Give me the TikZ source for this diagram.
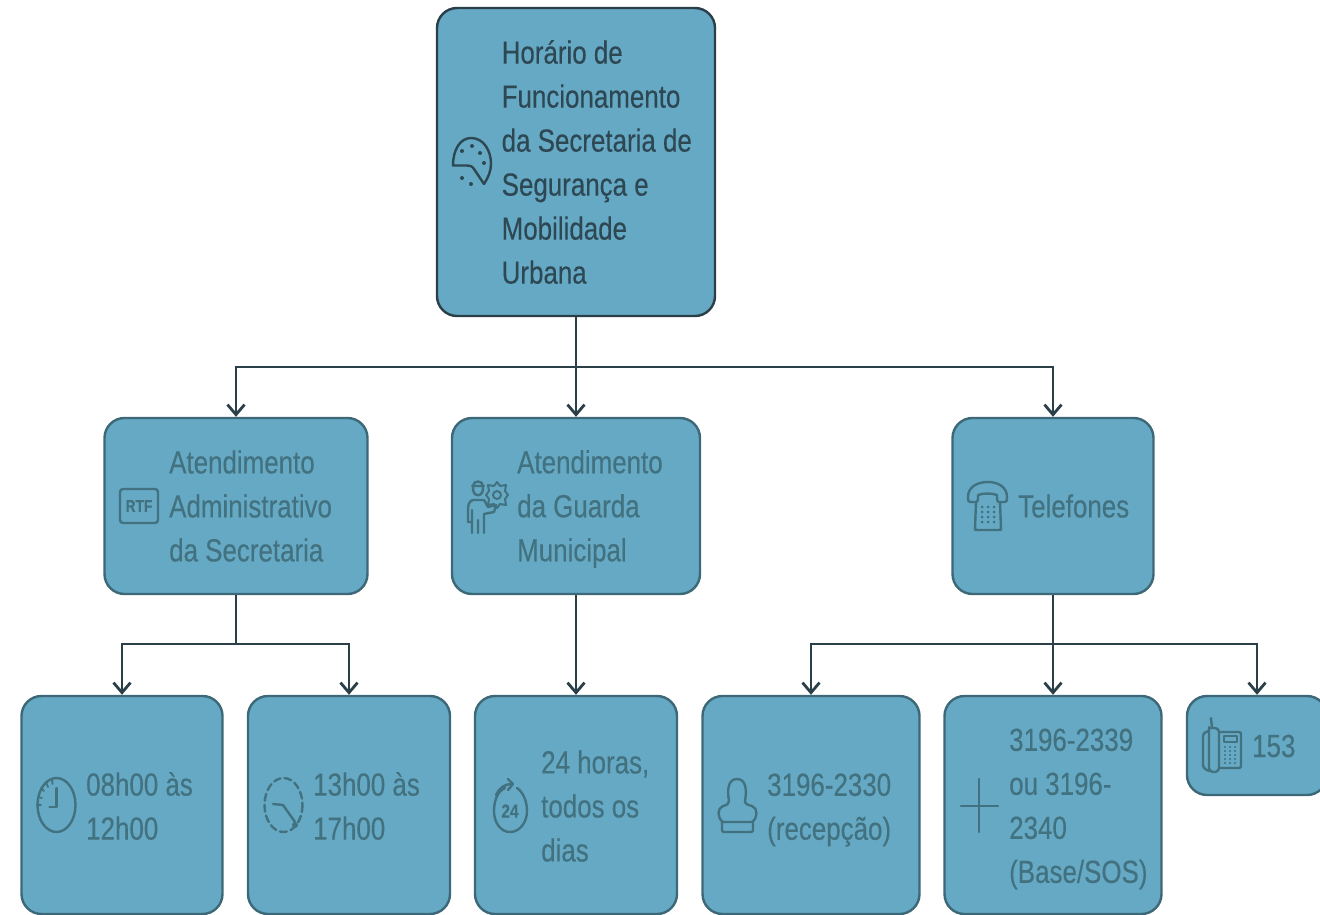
\documentclass[tikz,border=0pt]{standalone}
\usepackage{fontspec}
\setmainfont{Liberation Sans}[FakeStretch=0.81,FakeBold=0.25]
\usetikzlibrary{arrows.meta}
\definecolor{boxfill}{HTML}{66A9C4}
\definecolor{topink}{HTML}{2D4753}
\definecolor{softink}{HTML}{42717F}
\definecolor{softedge}{HTML}{3D6878}
\definecolor{wire}{HTML}{2B3F48}
\tikzset{
  x=1pt,y=-1pt,
  boxbase/.style={draw=softedge,line width=2.4pt,fill=boxfill,rounded corners=20pt,inner sep=0pt},
  topbox/.style={boxbase,draw=wire},
  label/.style={anchor=west,align=left,inner sep=0pt,text=softink,font=\fontsize{32}{44}\selectfont},
  toplabel/.style={label,text=topink},
  wirepath/.style={draw=wire,line width=2.8pt},
  arrowpath/.style={wirepath,-{Straight Barb[length=10pt,width=17pt,line width=2.8pt]}},
  icon/.style={draw=softink,line width=2.4pt,line cap=round,line join=round},
  topicon/.style={icon,draw=topink},
  dotmark/.style={fill=softink,draw=none},
  topdot/.style={fill=topink,draw=none},
  icontext/.style={inner sep=0pt,text=softink,font=\fontsize{17}{17}\selectfont\bfseries}
}
\begin{document}
\begin{tikzpicture}
\useasboundingbox (0,0) rectangle (1320,915);
\clip (0,0) rectangle (1320,915);
% boxes
\node[topbox,minimum width=278pt,minimum height=308pt] (top) at (576,162) {};
\node[boxbase,minimum width=263pt,minimum height=176pt] (adm) at (236,506) {};
\node[boxbase,minimum width=248pt,minimum height=176pt] (gua) at (576,506) {};
\node[boxbase,minimum width=201pt,minimum height=176pt] (tel) at (1053,506) {};
\node[boxbase,minimum width=201pt,minimum height=218pt] (h1) at (122,805) {};
\node[boxbase,minimum width=202pt,minimum height=218pt] (h2) at (349,805) {};
\node[boxbase,minimum width=202pt,minimum height=218pt] (h3) at (576,805) {};
\node[boxbase,minimum width=217pt,minimum height=218pt] (p1) at (811,805) {};
\node[boxbase,minimum width=217pt,minimum height=218pt] (p2) at (1053,805) {};
\node[boxbase,minimum width=140pt,minimum height=99pt] (p3) at (1257,745.5) {};
% connectors
\coordinate (j1) at (576,367);
\coordinate (j2) at (236,644);
\coordinate (j3) at (1053,644);
\draw[wirepath] (top.south) -- (j1);
\draw[arrowpath] (j1) -| (adm.north);
\draw[arrowpath] (j1) -- (gua.north);
\draw[arrowpath] (j1) -| (tel.north);
\draw[wirepath] (adm.south) -- (j2);
\draw[arrowpath] (j2) -| (h1.north);
\draw[arrowpath] (j2) -| (h2.north);
\draw[arrowpath] (gua.south) -- (h3.north);
\draw[wirepath] (tel.south) -- (j3);
\draw[arrowpath] (j3) -| (p1.north);
\draw[arrowpath] (j3) -- (p2.north);
\draw[arrowpath] (j3) -| (p3.north);
% labels
\node[toplabel] (ltop) at (501.5,162) {Horário de\\Funcionamento\\da Secretaria de\\Segurança e\\Mobilidade\\Urbana};
\node[label] (ladm) at (169,506) {Atendimento\\Administrativo\\da Secretaria};
\node[label] (lgua) at (517,509) {Atendimento\\da Guarda\\Municipal};
\node[label] (ltel) at (1018,506) {Telefones};
\node[label] (lh1) at (86,806) {08h00 às\\12h00};
\node[label] (lh2) at (313,806) {13h00 às\\17h00};
\node[label] (lh3) at (541,806) {24 horas,\\todos os\\dias};
\node[label] (lp1) at (767,810) {3196-2330\\(recepção)};
\node[label] (lp2) at (1009,809) {3196-2339\\ou 3196-\\2340\\(Base/SOS)};
\node[label] (lp3) at (1252,746) {153};
% palette icon
\draw[topicon] (453,165.5) .. controls (453,150) and (460,138) .. (471,138) .. controls (484,138) and (491,151) .. (491,164) .. controls (491,171) and (488,178) .. (484,184) -- (474,169) .. controls (472,166) and (470,165.5) .. (467,165.5) -- cycle;
\foreach \dx/\dy in {472/146,462/151,480/153,484/163,462/178,471/184}
  \fill[topdot] (\dx,\dy) circle (2);
% RTF icon
\draw[icon,rounded corners=3pt] (120,489) rectangle (158,523);
\node[icontext] (rtf) at (139,506) {RTF};
% guard icon
\draw[icon] (472,486) -- (484,486) (473,486) .. controls (473,480) and (483,480) .. (483,486) (473,487) .. controls (472,498) and (484,498) .. (483,487);
\draw[icon] (473,500) .. controls (469,501) and (468,505) .. (468,510) -- (468,522) -- (472,522) -- (472,533) (472,510) -- (472,522) (478,520) -- (478,533) (484,520) -- (484,533) (473,500) -- (484,500) -- (488,507) -- (496,505) -- (494,512) -- (484,514) -- (484,522);
\draw[icon,line width=2pt] (497,495) circle (4);
\draw[icon,line width=2pt] (497,482) -- (500,486) -- (506,485) -- (505,491) -- (508,495) -- (505,499) -- (506,505) -- (500,504) -- (497,508) -- (494,504) -- (488,505) -- (489,499) -- (486,495) -- (489,491) -- (488,485) -- (494,486) -- cycle;
% telephone icon
\draw[icon] (976,502) -- (970,502) .. controls (968,502) and (968,500) .. (968,497) .. controls (968,487) and (977,482) .. (988,482) .. controls (998,482) and (1007,487) .. (1007,497) .. controls (1007,500) and (1007,502) .. (1005,502) -- (999,502) .. controls (997,502) and (997,499) .. (997,495) .. controls (991,493) and (984,493) .. (978,495) .. controls (978,499) and (978,502) .. (976,502) -- cycle;
\draw[icon,rounded corners=2pt] (976,502) -- (975,528) -- (975,530) -- (1001,530) -- (1001,528) -- (1000,502);
\foreach \dy in {507,512,517,522}
  \foreach \dx in {982,988,994}
    \fill[dotmark] (\dx,\dy) circle (1.5);
% plain clock
\draw[icon] (56.5,805) ellipse (19 and 27);
\draw[icon] (56.5,788) -- (56.5,807) -- (49.5,807);
\foreach \ax/\ay/\bx/\by in {52/779/52.5/784,46/782/48/787,41/788/44/791,38/797/42/798,37/805/41/805}
  \draw[icon,line width=1.8pt] (\ax,\ay) -- (\bx,\by);
% dashed clock
\draw[icon,dash pattern=on 7pt off 4pt] (283.5,805) ellipse (19 and 27);
\draw[icon] (273,804) -- (283,805) -- (295,822);
\fill[dotmark] (295,825) circle (3);
% 24 icon
\draw[icon] (505,788) .. controls (498,791) and (494,800) .. (494,811) .. controls (494,823) and (501,832) .. (510,832) .. controls (520,832) and (527,822) .. (527,811) .. controls (527,801) and (523,792) .. (517,788);
\draw[icon] (496,795) .. controls (500,787) and (505,784) .. (512,784);
\draw[icon] (508,779) -- (513,784) -- (508,790);
\node[icontext,font=\fontsize{19}{19}\selectfont\bfseries] (n24) at (510,811) {24};
% stamp icon
\draw[icon] (723,822) .. controls (717,818) and (717,808) .. (723,806) .. controls (727,805) and (729,804) .. (729,801) .. controls (727,790) and (728,779) .. (737,779) .. controls (746,779) and (747,790) .. (745,801) .. controls (745,804) and (748,805) .. (752,806) .. controls (758,808) and (758,818) .. (752,822) -- cycle;
\draw[icon,rounded corners=2pt] (722,822) -- (722,832) -- (753,832) -- (753,822);
% plus icon
\coordinate (pl) at (961,806); \coordinate (pr) at (998,806);
\coordinate (pt) at (979,779); \coordinate (pb) at (979,832);
\draw[icon] (pl) -- (pr) (pt) -- (pb);
% desk phone icon
\draw[icon,rounded corners=4pt] (1209,727) -- (1209,772) -- (1219,772) -- (1219,728) -- (1209,728);
\draw[icon,rounded corners=3pt] (1209,731) -- (1203,733) -- (1203,768) -- (1209,771);
\draw[icon] (1211,718) -- (1212,728);
\draw[icon,rounded corners=2pt] (1219,732) -- (1241,732) -- (1241,768) -- (1219,768);
\draw[icon,line width=1.8pt] (1224,736) rectangle (1237,742);
\foreach \dy in {747,751,755,759,763}
  \foreach \dx in {1225,1230,1235}
    \fill[dotmark] (\dx,\dy) circle (1.2);
\end{tikzpicture}
\end{document}
